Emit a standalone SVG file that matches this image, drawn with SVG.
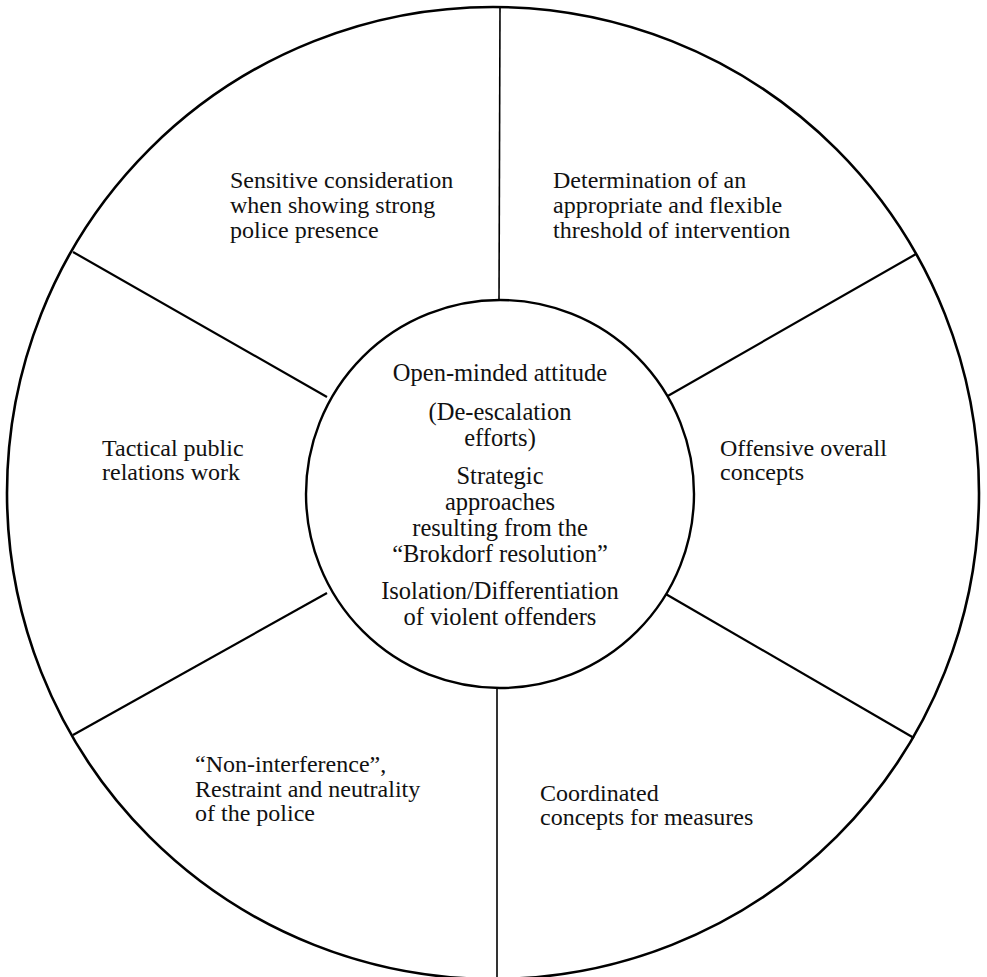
<svg xmlns="http://www.w3.org/2000/svg" width="987" height="977" viewBox="0 0 987 977">
<style>
.ring{fill:none;stroke:#000;stroke-width:2.6}
.spoke{stroke:#000;stroke-width:2.2;fill:none}
.vs{stroke:#000;stroke-width:1.6;fill:none}
text{font-family:"Liberation Serif","Times New Roman",serif;fill:#111}
.c{font-size:24.5px;text-anchor:middle}
.s{font-size:24px}
</style>
<rect width="987" height="977" fill="#fff"/>
<g id="outer-circle"><circle class="ring" cx="493" cy="493" r="486"/></g>
<g id="connectors">
<line class="vs" x1="500" y1="8" x2="499" y2="303"/>
<line class="vs" x1="497" y1="686" x2="497" y2="979"/>
<line class="spoke" x1="73" y1="252" x2="327" y2="397"/>
<line class="spoke" x1="916" y1="254" x2="666" y2="397"/>
<line class="spoke" x1="73" y1="735" x2="327" y2="593"/>
<line class="spoke" x1="914" y1="738" x2="664" y2="593"/>
</g>
<g id="center">
<circle cx="500" cy="494" r="194" fill="#fff" stroke="#000" stroke-width="2.4"/>
<text class="c" x="500" y="381">Open-minded attitude</text>
<text class="c" x="500" y="420">(De-escalation</text>
<text class="c" x="500" y="446">efforts)</text>
<text class="c" x="500" y="484">Strategic</text>
<text class="c" x="500" y="510">approaches</text>
<text class="c" x="500" y="536">resulting from the</text>
<text class="c" x="500" y="562">“Brokdorf resolution”</text>
<text class="c" x="500" y="599">Isolation/Differentiation</text>
<text class="c" x="500" y="625">of violent offenders</text>
</g>
<g id="sector-top-left">
<text class="s" x="230" y="188">Sensitive consideration</text>
<text class="s" x="230" y="213">when showing strong</text>
<text class="s" x="230" y="238">police presence</text>
</g>
<g id="sector-top-right">
<text class="s" x="553" y="188">Determination of an</text>
<text class="s" x="553" y="213">appropriate and flexible</text>
<text class="s" x="553" y="238">threshold of intervention</text>
</g>
<g id="sector-left">
<text class="s" x="102" y="456">Tactical public</text>
<text class="s" x="102" y="480">relations work</text>
</g>
<g id="sector-right">
<text class="s" x="720" y="456">Offensive overall</text>
<text class="s" x="720" y="480">concepts</text>
</g>
<g id="sector-bottom-left">
<text class="s" x="195" y="772">“Non-interference”,</text>
<text class="s" x="195" y="797">Restraint and neutrality</text>
<text class="s" x="195" y="821">of the police</text>
</g>
<g id="sector-bottom-right">
<text class="s" x="540" y="801">Coordinated</text>
<text class="s" x="540" y="825">concepts for measures</text>
</g>
</svg>
